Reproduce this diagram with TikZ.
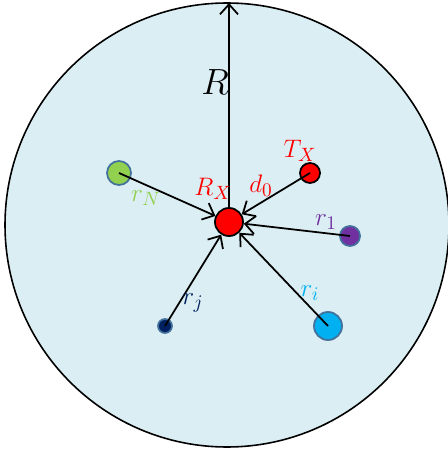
\documentclass[tikz,border=0pt]{standalone}
\usepackage{amsmath,amssymb}
\usepackage{tikz}
\usetikzlibrary{arrows.meta}
\usepackage{xcolor}
\definecolor{cellblue}{HTML}{DAEEF3}
\definecolor{usrgreen}{HTML}{92D050}
\definecolor{usrpurple}{HTML}{7030A0}
\definecolor{usrcyan}{HTML}{00B0F0}
\definecolor{usrnavy}{HTML}{002060}
\definecolor{rimblue}{HTML}{41719C}

\begin{document}
\begin{tikzpicture}[
    x=0.02cm, y=-0.02cm,
    user/.style={circle, draw=rimblue, line width=1pt, inner sep=0pt},
    radio/.style={circle, draw=black, line width=1pt, fill=red, inner sep=0pt},
    lbl/.style={font=\fontsize{15}{17}\selectfont},
    link/.style={-{Straight Barb[length=2mm,width=3.6mm]}, line width=1pt},
]
\useasboundingbox (0,0) rectangle (448,452);
\draw[fill=cellblue, line width=0.9pt] (227,225) circle (222);
\coordinate (top) at (229,3);

\node[radio, minimum size=28*0.02cm] (rx) at (229,222) {};
\node[radio, minimum size=20*0.02cm] (tx) at (310,173) {};
\node[user, fill=usrpurple, minimum size=20*0.02cm] (rone) at (350,236) {};
\node[user, fill=usrcyan, minimum size=28*0.02cm] (ri) at (328,326) {};
\node[user, fill=usrnavy, minimum size=14*0.02cm] (rj) at (165,326) {};
\node[user, fill=usrgreen, minimum size=24*0.02cm] (rn) at (119,173) {};

\draw[link] (rx) -- (top);
\draw[link] (tx.center) -- (rx);
\draw[link] (rone.center) -- (rx);
\draw[link] (ri.center) -- (rx);
\draw[link] (rj.center) -- (rx);
\draw[link] (rn.center) -- (rx);

\node[font=\fontsize{22}{26}\selectfont] (rlbl) at (215,82) {$R$};
\node[lbl, text=red] (rxlbl) at (213,189) {$R_X$};
\node[lbl, text=red] (dlbl) at (261,186) {$d_0$};
\node[lbl, text=red] (txlbl) at (300,151) {$T_X$};
\node[lbl, text=usrpurple] (r1lbl) at (326,222) {$r_1$};
\node[lbl, text=usrcyan] (rilbl) at (310,293) {$r_i$};
\node[lbl, text=usrnavy] (rjlbl) at (193,303) {$r_j$};
\node[lbl, text=usrgreen] (rnlbl) at (146,198) {$r_N$};
\end{tikzpicture}
\end{document}
